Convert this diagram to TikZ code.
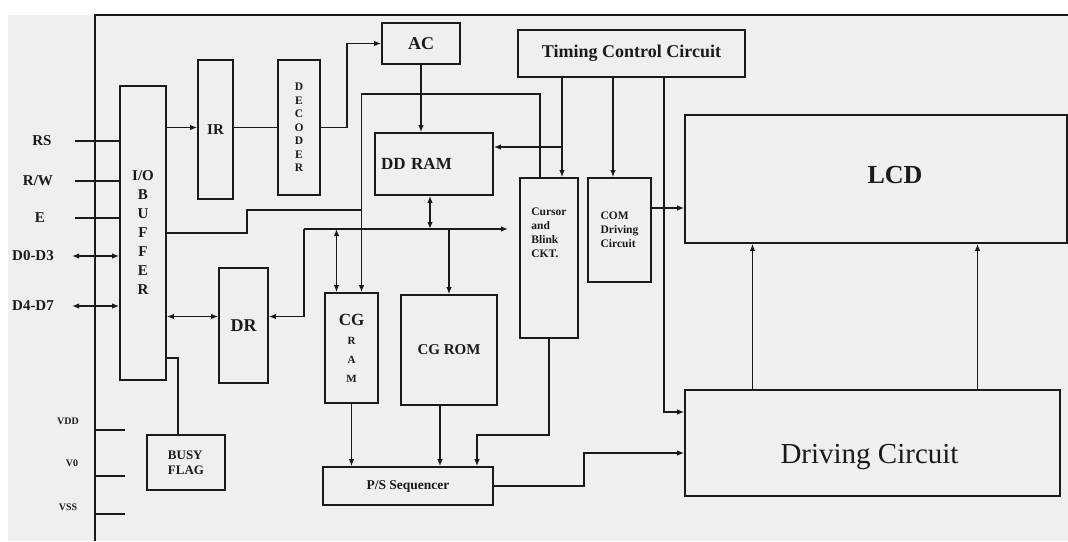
\documentclass[tikz,border=0pt]{standalone}
\usepackage{fontspec}
\setmainfont{Liberation Serif}
\usepackage{tikz}
\usetikzlibrary{
  arrows.meta,
  calc,
  positioning
}
\definecolor{ink}{HTML}{1A1A1A}
\definecolor{paper}{HTML}{EFEFEF}
\newcommand{\pxfont}[2]{\fontsize{#1}{#2}\selectfont}
\tikzset{
  block/.style={
    draw=ink,
    line width=1.6pt,
    inner sep=0pt,
    align=center,
    text=ink
  },
  wire/.style={draw=ink, line width=1.5pt},
  arrow/.style={wire, -{Latex[length=7pt, width=5.5pt]}},
  biarrow/.style={wire, {Latex[length=7pt, width=5.5pt]}-{Latex[length=7pt, width=5.5pt]}},
  pinlabel/.style={text=ink, font=\bfseries\pxfont{15}{18}},
  supply/.style={text=ink, font=\bfseries\pxfont{10}{12}}
}

\begin{document}
\begin{tikzpicture}[x=1pt, y=-1pt]
  \useasboundingbox (0,0) rectangle (1068,541);
  \fill[white] (0,0) rectangle (1068,541);
  \fill[paper] (8,15) rectangle (1068,541);
  \draw[wire] (95,541) -- (95,15) -- (1068,15);

  \node[block, minimum width=46pt, minimum height=294pt, font=\bfseries\pxfont{15}{19}]
    (buffer) at (143,233) {I/O\\B\\U\\F\\F\\E\\R};
  \node[block, minimum width=35pt, minimum height=139pt, font=\bfseries\pxfont{15}{18}]
    (ir) at (215.5,129.5) {IR};
  \node[block, minimum width=42pt, minimum height=135pt, font=\bfseries\pxfont{11.5}{13.5}]
    (dec) at (299,127.5) {D\\E\\C\\O\\D\\E\\R};
  \node[block, minimum width=78pt, minimum height=41pt, font=\bfseries\pxfont{18}{20}]
    (ac) at (421,43.5) {AC};
  \node[block, minimum width=118pt, minimum height=62pt, text width=106pt, align=left,
    font=\bfseries\pxfont{17}{20}] (ddram) at (434,164) {DD RAM};
  \node[block, minimum width=227pt, minimum height=47pt, font=\bfseries\pxfont{18}{20}]
    (timing) at (631.5,53.5) {Timing Control Circuit};
  \node[block, minimum width=58pt, minimum height=160pt,
    label={[yshift=25pt, text=ink, align=left, font=\bfseries\pxfont{11.5}{14}]center:Cursor\\and\\Blink\\CKT.}]
    (cursor) at (549,258) {};
  \node[block, minimum width=63pt, minimum height=104pt, align=left, font=\bfseries\pxfont{11.5}{14}]
    (com) at (619.5,230) {COM\\Driving\\Circuit};
  \node[block, minimum width=382pt, minimum height=128pt,
    label={[xshift=19pt, yshift=4pt, text=ink, font=\bfseries\pxfont{26}{28}]center:LCD}]
    (lcd) at (876,179) {};
  \node[block, minimum width=375pt, minimum height=106pt,
    label={[xshift=-3pt, yshift=-14pt, text=ink, font=\pxfont{29}{31}]center:Driving Circuit}]
    (drive) at (872.5,443) {};
  \node[block, minimum width=49pt, minimum height=115pt, font=\bfseries\pxfont{18}{20}]
    (dr) at (243.5,325.5) {DR};
  \node[block, minimum width=53pt, minimum height=110pt, font=\bfseries\pxfont{11}{19}]
    (cgram) at (351.5,348) {{\pxfont{17}{19}CG}\\R\\A\\M};
  \node[block, minimum width=96pt, minimum height=110pt, font=\bfseries\pxfont{15}{18}]
    (cgrom) at (449,350) {CG ROM};
  \node[block, minimum width=170pt, minimum height=38pt, font=\bfseries\pxfont{13.5}{15}]
    (ps) at (408,486) {P/S Sequencer};
  \node[block, minimum width=78pt, minimum height=55pt, align=left, font=\bfseries\pxfont{13}{15}]
    (busy) at (186,462.5) {BUSY\\FLAG};

  \node[pinlabel] (rs) at (42,141) {RS};
  \node[pinlabel] (rw) at (38,181) {R/W};
  \node[pinlabel] (e) at (40,218) {E};
  \node[pinlabel] (dlow) at (33,256) {D0-D3};
  \node[pinlabel] (dhigh) at (33,306) {D4-D7};
  \coordinate (rsin) at (75,141);
  \coordinate (rwin) at (75,181);
  \coordinate (ein) at (75,218);
  \coordinate (dlowin) at (72,256);
  \coordinate (dhighin) at (72,306);
  \draw[wire] (rsin) -- (rsin -| buffer.west);
  \draw[wire] (rwin) -- (rwin -| buffer.west);
  \draw[wire] (ein) -- (ein -| buffer.west);
  \draw[biarrow] (dlowin) -- (dlowin -| buffer.west);
  \draw[biarrow] (dhighin) -- (dhighin -| buffer.west);

  \node[supply] (vdd) at (68,421) {VDD};
  \node[supply] (vnull) at (72,463) {V0};
  \node[supply] (vss) at (68,507) {VSS};
  \coordinate (vddin) at (95,430);
  \coordinate (vnullin) at (95,476);
  \coordinate (vssin) at (95,514);
  \draw[wire] (vddin) -- ++(30,0);
  \draw[wire] (vnullin) -- ++(30,0);
  \draw[wire] (vssin) -- ++(30,0);

  \coordinate (irin) at ([yshift=2pt]ir.west);
  \draw[arrow] (irin -| buffer.east) -- (irin);
  \draw[wire] (irin -| ir.east) -- (irin -| dec.west);
  \draw[arrow] (dec.east) -- ++(26,0) |- (ac.west);
  \draw[arrow] (ac.south) -- (ac.south |- ddram.north);

  \coordinate (tcc) at ([xshift=13pt]cursor.north);
  \coordinate (tcm) at ([xshift=-6.5pt]com.north);
  \coordinate (tcd) at ([xshift=32.5pt]timing.south);
  \coordinate (ddin) at ([yshift=17pt]ddram.east);
  \draw[arrow] (tcc |- timing.south) -- (tcc);
  \draw[arrow] (tcm |- timing.south) -- (tcm);
  \draw[arrow] (tcd) |- ([yshift=31pt]drive.west);
  \draw[arrow] (tcc |- ddin) -- (ddin);

  \coordinate (comout) at ([yshift=22pt]com.east);
  \draw[arrow] (comout) -- (comout -| lcd.west);
  \coordinate (dlA) at ([xshift=-120pt]drive.north);
  \coordinate (dlB) at ([xshift=105pt]drive.north);
  \draw[arrow] (dlA) -- (dlA |- lcd.south);
  \draw[arrow] (dlB) -- (dlB |- lcd.south);

  \draw[arrow] ([xshift=-9pt]cursor.north) -- ++(0,-83) -| ([xshift=10pt]cgram.north);
  \coordinate (busjoin) at (361.5,210);
  \draw[wire] (buffer.east) -- ++(80,0) |- (busjoin);

  \coordinate (busL) at (304,229);
  \coordinate (busR) at (508,229);
  \draw[arrow] (busL) -- (busR);
  \draw[arrow] (busL) |- ([yshift=9pt]dr.east);
  \coordinate (ddout) at ([xshift=-4pt]ddram.south);
  \draw[biarrow] (ddout) -- (ddout |- busL);
  \coordinate (cgin) at ([xshift=-15pt]cgram.north);
  \draw[biarrow] (cgin |- busL) -- (cgin);
  \draw[arrow] (cgrom.north |- busL) -- (cgrom.north);

  \coordinate (drin) at ([yshift=9pt]dr.west);
  \draw[biarrow] (drin -| buffer.east) -- (drin);
  \coordinate (bfout) at ([yshift=-125pt]buffer.east);
  \draw[wire] (bfout) -| ([xshift=-8pt]busy.north);

  \draw[arrow] (cgram.south) -- (cgram.south |- ps.north);
  \coordinate (romout) at ([xshift=-9pt]cgrom.south);
  \draw[arrow] (romout) -- (romout |- ps.north);
  \draw[arrow] (cursor.south) -- ++(0,96) -| ([xshift=69pt]ps.north);
  \draw[arrow] (ps.east) -- ++(90,0) |- ([yshift=-10pt]drive.west);
\end{tikzpicture}
\end{document}
